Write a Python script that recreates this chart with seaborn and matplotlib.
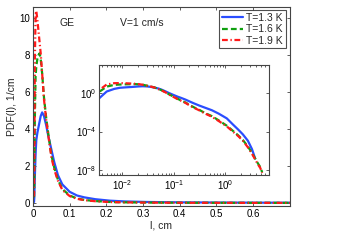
import numpy as np
import pandas as pd
import seaborn as sns
import matplotlib
matplotlib.use('Agg')
import matplotlib.pyplot as plt
from matplotlib.ticker import LogLocator, FixedLocator, NullLocator, MultipleLocator

nan = np.nan

# chord length l, cm
l_cm = [0.0028, 0.0035, 0.005, 0.007, 0.009, 0.012, 0.015, 0.018, 0.021, 0.025, 0.03,
        0.036, 0.042, 0.05, 0.058, 0.068, 0.08, 0.1, 0.12, 0.14, 0.17,
        0.21, 0.25, 0.31, 0.4, 0.55, 0.75, 1.07, 1.4, 1.78, 2.2,
        2.75, 3.3, 3.8, 4.3, 4.8, 5.2]

# PDF(l), 1/cm for the three temperatures
pdf_13 = [0.05, 0.25, 1.4, 2.6, 3.4, 3.8, 4.1, 4.4, 4.7, 4.9, 4.7,
          4.2, 3.6, 2.9, 2.2, 1.5, 1.0, 0.6, 0.4, 0.3, 0.2,
          0.12, 0.08, 0.05, 0.03, 0.016, 7e-3, 2.3e-3, 5.5e-4, 1.6e-4, 5e-5,
          1.1e-5, 1.5e-6, 1.6e-7, nan, nan, nan]
pdf_16 = [0.3, 1.2, 4.5, 6.8, 7.4, 7.8, 8.0, 8.1, 7.8, 7.0, 5.7,
          4.6, 3.7, 2.6, 1.9, 1.25, 0.75, 0.4, 0.24, 0.16, 0.1,
          0.05, 0.031, 0.018, 8.5e-3, 3.9e-3, 1.4e-3, 4e-4, 1.2e-4, 4e-5, 1.3e-5,
          2.8e-6, 6e-7, 1.6e-7, 5e-8, 2e-8, 6e-9]
pdf_19 = [0.35, 1.8, 7.5, 10.2, 10.4, 9.9, 9.3, 8.7, 8.1, 7.0, 5.6,
          4.5, 3.6, 2.5, 1.8, 1.2, 0.7, 0.37, 0.22, 0.15, 0.09,
          0.045, 0.028, 0.016, 7.5e-3, 3.4e-3, 1.2e-3, 3.4e-4, 1e-4, 3.4e-5, 1.1e-5,
          2.3e-6, 5e-7, 1.3e-7, 4e-8, 1.6e-8, 5e-9]

labels = ['T=1.3 K', 'T=1.6 K', 'T=1.9 K']
colors = ['#2a4dff', '#10a010', '#ff1a1a']
styles = ['-', (0, (2.6, 1.4)), (0, (2.6, 1.2, 0.6, 1.2))]

sns.set_theme(style='ticks')
plt.rcParams['font.family'] = ['Liberation Sans', 'DejaVu Sans']
plt.rcParams['mathtext.default'] = 'regular'
plt.rcParams['axes.edgecolor'] = '#444444'
plt.rcParams['axes.linewidth'] = 0.8
plt.rcParams['xtick.color'] = '#444444'
plt.rcParams['ytick.color'] = '#444444'
plt.rcParams['xtick.labelcolor'] = 'black'
plt.rcParams['ytick.labelcolor'] = 'black'

df = pd.DataFrame({'l': l_cm, labels[0]: pdf_13, labels[1]: pdf_16, labels[2]: pdf_19})

fig = plt.figure(figsize=(3.38, 2.45), dpi=100)
ax = fig.add_axes([0.0976, 0.159, 0.760, 0.812])
ins = fig.add_axes([0.293, 0.286, 0.503, 0.449])

for name, c, ls in zip(labels, colors, styles):
    sns.lineplot(data=df, x='l', y=name, ax=ax, color=c, linestyle=ls, lw=1.6,
                 estimator=None, sort=True, label=name)
    sns.lineplot(data=df, x='l', y=name, ax=ins, color=c, linestyle=ls, lw=1.6,
                 estimator=None, sort=True, legend=False)

# main axes
ax.set_xlim(0, 0.7)
ax.set_ylim(-0.17, 10.6)
ax.xaxis.set_major_locator(FixedLocator([0, 0.1, 0.2, 0.3, 0.4, 0.5, 0.6]))
ax.set_xticklabels(['0', '0.1', '0.2', '0.3', '0.4', '0.5', '0.6'])
ax.yaxis.set_major_locator(MultipleLocator(2))
ax.tick_params(direction='in', top=True, right=True, length=2.5, width=0.6,
               labelsize=7, pad=2)
ax.set_xlabel('l, cm', fontsize=7.5, labelpad=1)
ax.set_ylabel('PDF(l), 1/cm', fontsize=7.5, labelpad=2)
ax.text(0.105, 0.92, 'GE', transform=ax.transAxes, fontsize=7.5, va='center')
ax.text(0.34, 0.92, 'V=1 cm/s', transform=ax.transAxes, fontsize=7.5, va='center')

leg = ax.legend(loc='upper right', bbox_to_anchor=(0.983, 0.985), borderaxespad=0,
                fontsize=7.5, frameon=True, fancybox=False, handlelength=2.0,
                handletextpad=0.35, labelspacing=0.15, borderpad=0.25)
leg.get_frame().set_edgecolor('#222222')
leg.get_frame().set_linewidth(0.8)

# inset, log-log
ins.set_xscale('log')
ins.set_yscale('log')
ins.set_xlim(10 ** -2.45, 10 ** 0.85)
ins.set_ylim(10 ** -8.5, 10 ** 2.9)
ins.xaxis.set_major_locator(FixedLocator([1e-2, 1e-1, 1e0]))
ins.xaxis.set_minor_locator(LogLocator(base=10, subs=np.arange(2, 10)))
ins.yaxis.set_major_locator(FixedLocator([1e-8, 1e-4, 1e0]))
ins.yaxis.set_minor_locator(NullLocator())
ins.tick_params(which='both', direction='in', top=True, right=True, width=0.6,
                labelsize=7, pad=2)
ins.tick_params(which='major', length=2.5)
ins.tick_params(which='minor', length=1.3)
ins.set_xlabel('')
ins.set_ylabel('')
ins.set_facecolor('white')

fig.savefig('out.png', dpi=100)
